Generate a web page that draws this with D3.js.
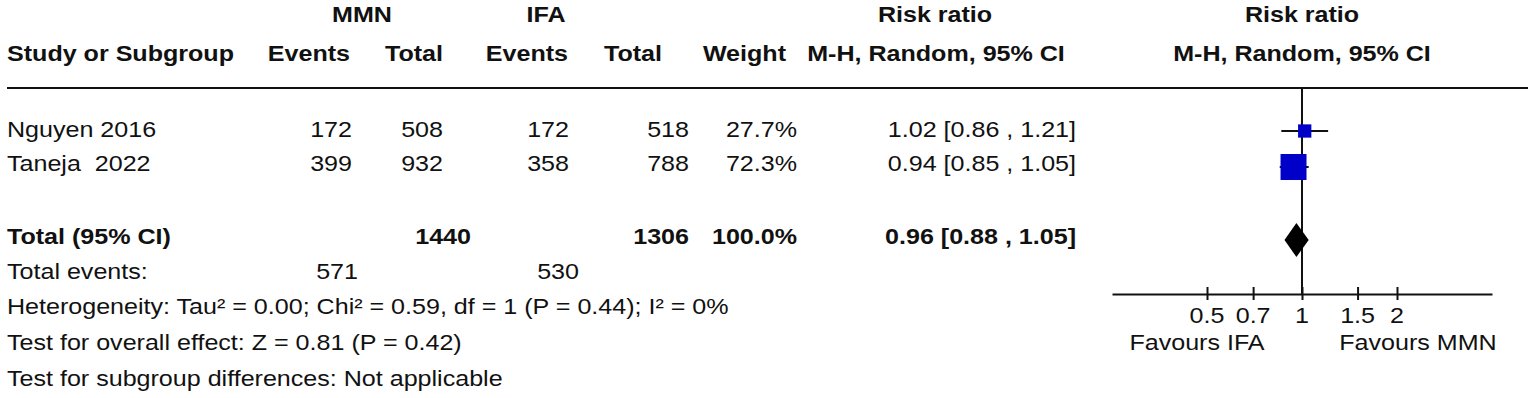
<!DOCTYPE html>
<html>
<head>
<meta charset="utf-8">
<script src="https://cdn.jsdelivr.net/npm/d3@7"></script>
<style>
  body { margin: 0; background: #fff; }
  text { font-family: "Liberation Sans", Arial, sans-serif; white-space: pre; fill: #111; }
</style>
</head>
<body>
<div id="chart"></div>
<script>
// study level data
const studies = ["Nguyen 2016", "Taneja  2022"];
const mmnEvents = [172, 399];
const mmnTotal = [508, 932];
const ifaEvents = [172, 358];
const ifaTotal = [518, 788];
const weights = [27.7, 72.3];
const rr = [1.02, 0.94];
const rrLow = [0.86, 0.85];
const rrHigh = [1.21, 1.05];

// pooled result
const pooledTotals = [1440, 1306];
const pooledEvents = [571, 530];
const pooledWeight = 100.0;
const pooledRR = [0.96, 0.88, 1.05];

const axisTicks = [0.5, 0.7, 1, 1.5, 2];
const footLines = [
  "Heterogeneity: Tau\u00b2 = 0.00; Chi\u00b2 = 0.59, df = 1 (P = 0.44); I\u00b2 = 0%",
  "Test for overall effect: Z = 0.81 (P = 0.42)",
  "Test for subgroup differences: Not applicable"
];

const W = 1535, H = 398;
const FS = 22, SX = 1.14; // font size, horizontal stretch of the picture

const svg = d3.select("#chart").append("svg")
  .attr("width", W).attr("height", H);

function txt(x, y, s, anchor, bold) {
  return svg.append("text")
    .attr("transform", `translate(${x},${y}) scale(${SX},1)`)
    .attr("text-anchor", anchor || "start")
    .attr("font-size", FS)
    .attr("font-weight", bold ? "bold" : "normal")
    .text(s);
}

// column right edges
const col = { ev1: 352, tot1: 443, ev2: 569, tot2: 689, wt: 797, ci: 1076 };
const rowY = [137, 171];
const totalY = 244, eventsY = 279;

// headers
txt(362, 22, "MMN", "middle", true);
txt(546, 22, "IFA", "middle", true);
txt(935, 22, "Risk ratio", "middle", true);
txt(1302, 22, "Risk ratio", "middle", true);
txt(7, 61, "Study or Subgroup", "start", true);
txt(350, 61, "Events", "end", true);
txt(443, 61, "Total", "end", true);
txt(568, 61, "Events", "end", true);
txt(662, 61, "Total", "end", true);
txt(786, 61, "Weight", "end", true);
txt(936, 61, "M-H, Random, 95% CI", "middle", true);
txt(1302, 61, "M-H, Random, 95% CI", "middle", true);

svg.append("line")
  .attr("x1", 7).attr("x2", 1528).attr("y1", 88).attr("y2", 88)
  .attr("stroke", "#111").attr("stroke-width", 2);

const f2 = d3.format(".2f");
const f1 = d3.format(".1f");

studies.forEach((s, i) => {
  const y = rowY[i];
  txt(7, y, s);
  txt(col.ev1, y, mmnEvents[i], "end");
  txt(col.tot1, y, mmnTotal[i], "end");
  txt(col.ev2, y, ifaEvents[i], "end");
  txt(col.tot2, y, ifaTotal[i], "end");
  txt(col.wt, y, f1(weights[i]) + "%", "end");
  txt(col.ci, y, `${f2(rr[i])} [${f2(rrLow[i])} , ${f2(rrHigh[i])}]`, "end");
});

txt(7, totalY, "Total (95% CI)", "start", true);
txt(col.tot1 + 28, totalY, pooledTotals[0], "end", true);
txt(col.tot2, totalY, pooledTotals[1], "end", true);
txt(col.wt, totalY, f1(pooledWeight) + "%", "end", true);
txt(col.ci, totalY, `${f2(pooledRR[0])} [${f2(pooledRR[1])} , ${f2(pooledRR[2])}]`, "end", true);

txt(7, eventsY, "Total events:");
txt(col.ev1 + 6, eventsY, pooledEvents[0], "end");
txt(col.ev2 + 10, eventsY, pooledEvents[1], "end");

footLines.forEach((s, i) => txt(7, 314 + i * 36, s));

// forest plot
const x = d3.scaleLog().domain([0.25, 4]).range([1112, 1492]);
const axisY = 294;
const side = d3.scalePow().exponent(0.7).domain([0, 100]).range([0, 32.6]);
const markY = [131, 167];
const diamondY = 240;

svg.append("line")
  .attr("x1", x(1)).attr("x2", x(1)).attr("y1", 88).attr("y2", axisY)
  .attr("stroke", "#111").attr("stroke-width", 2);

const g = svg.append("g");
g.selectAll("line.ci").data(studies).enter().append("line")
  .attr("x1", (d, i) => x(rrLow[i])).attr("x2", (d, i) => x(rrHigh[i]))
  .attr("y1", (d, i) => markY[i]).attr("y2", (d, i) => markY[i])
  .attr("stroke", "#111").attr("stroke-width", 2);
g.selectAll("rect").data(studies).enter().append("rect")
  .attr("x", (d, i) => x(rr[i]) - side(weights[i]) / 2)
  .attr("y", (d, i) => markY[i] - side(weights[i]) / 2)
  .attr("width", (d, i) => side(weights[i]))
  .attr("height", (d, i) => side(weights[i]))
  .attr("fill", "#0000c8");

svg.append("path")
  .attr("d", `M${x(pooledRR[1])},${diamondY} L${x(pooledRR[0])},${diamondY - 17} L${x(pooledRR[2])},${diamondY} L${x(pooledRR[0])},${diamondY + 17} Z`)
  .attr("fill", "#000");

const axis = d3.axisBottom(x).tickValues(axisTicks).tickFormat(d3.format("")).tickSize(6).tickSizeOuter(0);
const ax = svg.append("g").attr("transform", `translate(0,${axisY})`).call(axis);
ax.select(".domain").attr("stroke", "#111").attr("stroke-width", 2);
ax.selectAll(".tick line").attr("y1", -7).attr("y2", 6).attr("stroke", "#111").attr("stroke-width", 2);
ax.selectAll(".tick text").remove();
axisTicks.forEach(t => txt(x(t), 323, d3.format("")(t), "middle"));

txt(1197, 350, "Favours IFA", "middle");
txt(1418, 350, "Favours MMN", "middle");
</script>
</body>
</html>
